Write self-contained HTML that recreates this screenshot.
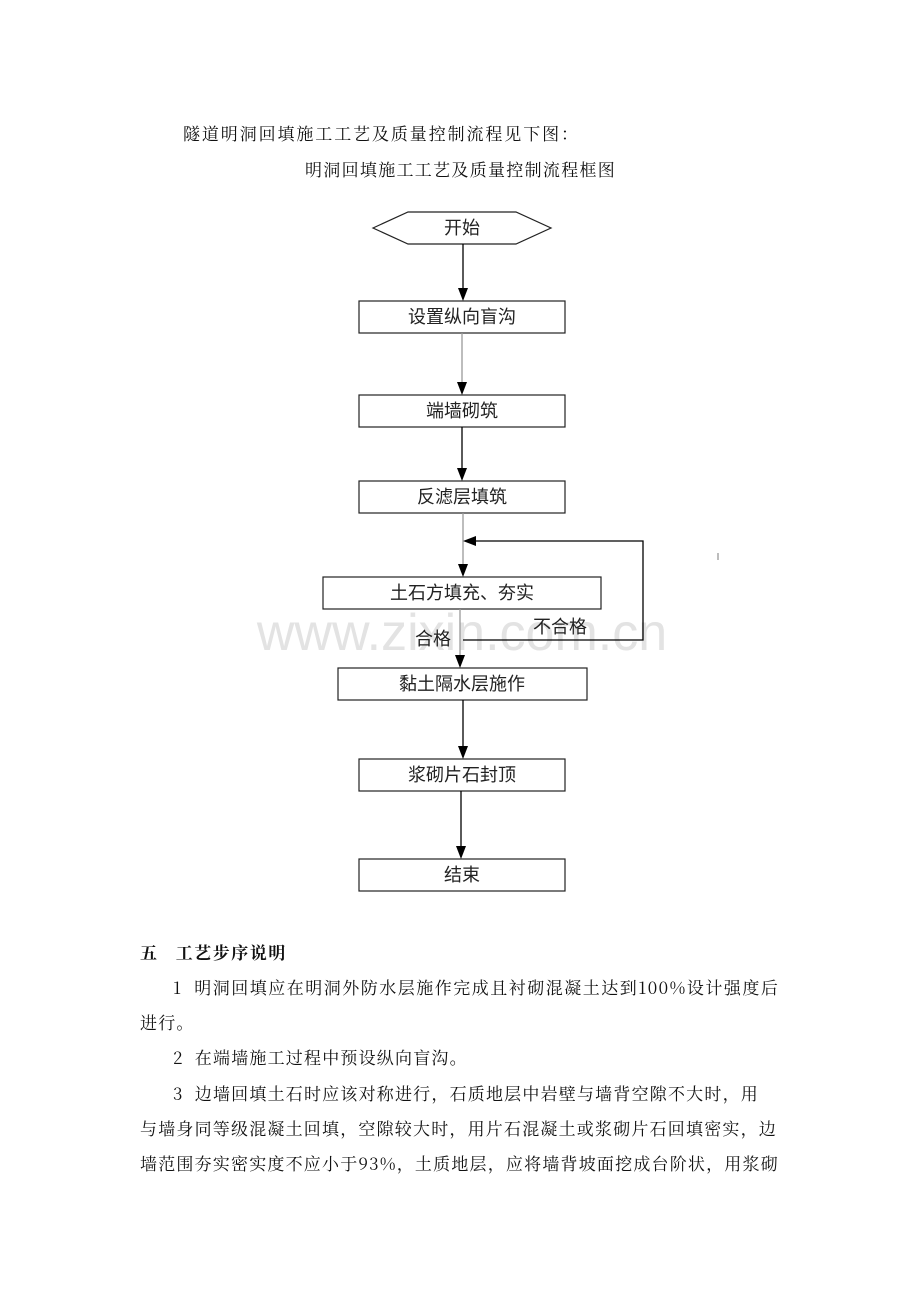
<!DOCTYPE html>
<html><head><meta charset="utf-8"><style>
body{margin:0;background:#fff;}
.p{position:absolute;font-family:"Noto Serif CJK SC","Liberation Serif",serif;font-size:17px;color:#111;white-space:nowrap;line-height:20px;letter-spacing:1.2px;}
</style></head><body>
<div style="position:relative;width:920px;height:1302px;overflow:hidden;">
<div class="p" style="left:183px;top:123px;letter-spacing:1.9px;">隧道明洞回填施工工艺及质量控制流程见下图：</div>
<div class="p" style="left:305px;top:159px;letter-spacing:1.3px;">明洞回填施工工艺及质量控制流程框图</div>
<svg width="920" height="1302" style="position:absolute;left:0;top:0" font-family="Liberation Sans,Noto Sans CJK SC,sans-serif" font-size="18">
<text x="462" y="650" font-size="52" fill="#e3e3e3" text-anchor="middle" font-family="Liberation Sans,sans-serif">www.zixin.com.cn</text>
<g fill="#fff" stroke="#222" stroke-width="1.2">
<polygon points="373,228 408,212 516,212 551,228 516,244 408,244"/>
<rect x="359" y="301" width="206" height="32"/>
<rect x="359" y="395" width="206" height="32"/>
<rect x="359" y="481" width="206" height="32"/>
<rect x="323" y="577" width="278" height="32"/>
<rect x="338" y="668" width="249" height="32"/>
<rect x="359" y="759" width="206" height="32"/>
<rect x="359" y="859" width="206" height="32"/>
</g>
<g stroke="#000" stroke-width="1.3" fill="none">
<line x1="463" y1="244" x2="463" y2="290"/>
<line x1="462" y1="333" x2="462" y2="384" stroke="#999"/>
<line x1="462" y1="427" x2="462" y2="470"/>
<line x1="463" y1="513" x2="463" y2="566" stroke="#999"/>
<line x1="460" y1="609" x2="460" y2="657" stroke="#999"/>
<polyline points="463,640 643,640 643,541 475,541"/>
<line x1="463" y1="700" x2="463" y2="748"/>
<line x1="461" y1="791" x2="461" y2="848"/>
<line x1="718" y1="553" x2="718" y2="560" stroke="#999"/>
</g>
<g fill="#000">
<path d="M458,288 L468,288 L463,301z"/>
<path d="M457,382 L467,382 L462,395z"/>
<path d="M457,468 L467,468 L462,481z"/>
<path d="M458,564 L468,564 L463,577z"/>
<path d="M455,655 L465,655 L460,668z"/>
<path d="M458,746 L468,746 L463,759z"/>
<path d="M456,846 L466,846 L461,859z"/>
<path d="M476,536 L476,546 L463,541z"/>
</g>
<g fill="#222" text-anchor="middle">
<text x="462" y="234">开始</text>
<text x="462" y="323">设置纵向盲沟</text>
<text x="462" y="417">端墙砌筑</text>
<text x="462" y="503">反滤层填筑</text>
<text x="462" y="599">土石方填充、夯实</text>
<text x="560" y="633">不合格</text>
<text x="433" y="645">合格</text>
<text x="462" y="690">黏土隔水层施作</text>
<text x="462" y="781">浆砌片石封顶</text>
<text x="462" y="881">结束</text>
</g>
</svg>
<div class="p" style="left:140px;top:942px;font-weight:bold;letter-spacing:1.5px;">五&nbsp;&nbsp;&nbsp;工艺步序说明</div>
<div class="p" style="left:173px;top:977px;letter-spacing:1.5px;">1&nbsp;&nbsp;明洞回填应在明洞外防水层施作完成且衬砌混凝土达到100%设计强度后</div>
<div class="p" style="left:140px;top:1012px;">进行。</div>
<div class="p" style="left:173px;top:1047px;">2&nbsp;&nbsp;在端墙施工过程中预设纵向盲沟。</div>
<div class="p" style="left:173px;top:1083px;">3&nbsp;&nbsp;边墙回填土石时应该对称进行，石质地层中岩壁与墙背空隙不大时，用</div>
<div class="p" style="left:140px;top:1118px;">与墙身同等级混凝土回填，空隙较大时，用片石混凝土或浆砌片石回填密实，边</div>
<div class="p" style="left:140px;top:1153px;">墙范围夯实密实度不应小于93%，土质地层，应将墙背坡面挖成台阶状，用浆砌</div>
</div>
</body></html>
